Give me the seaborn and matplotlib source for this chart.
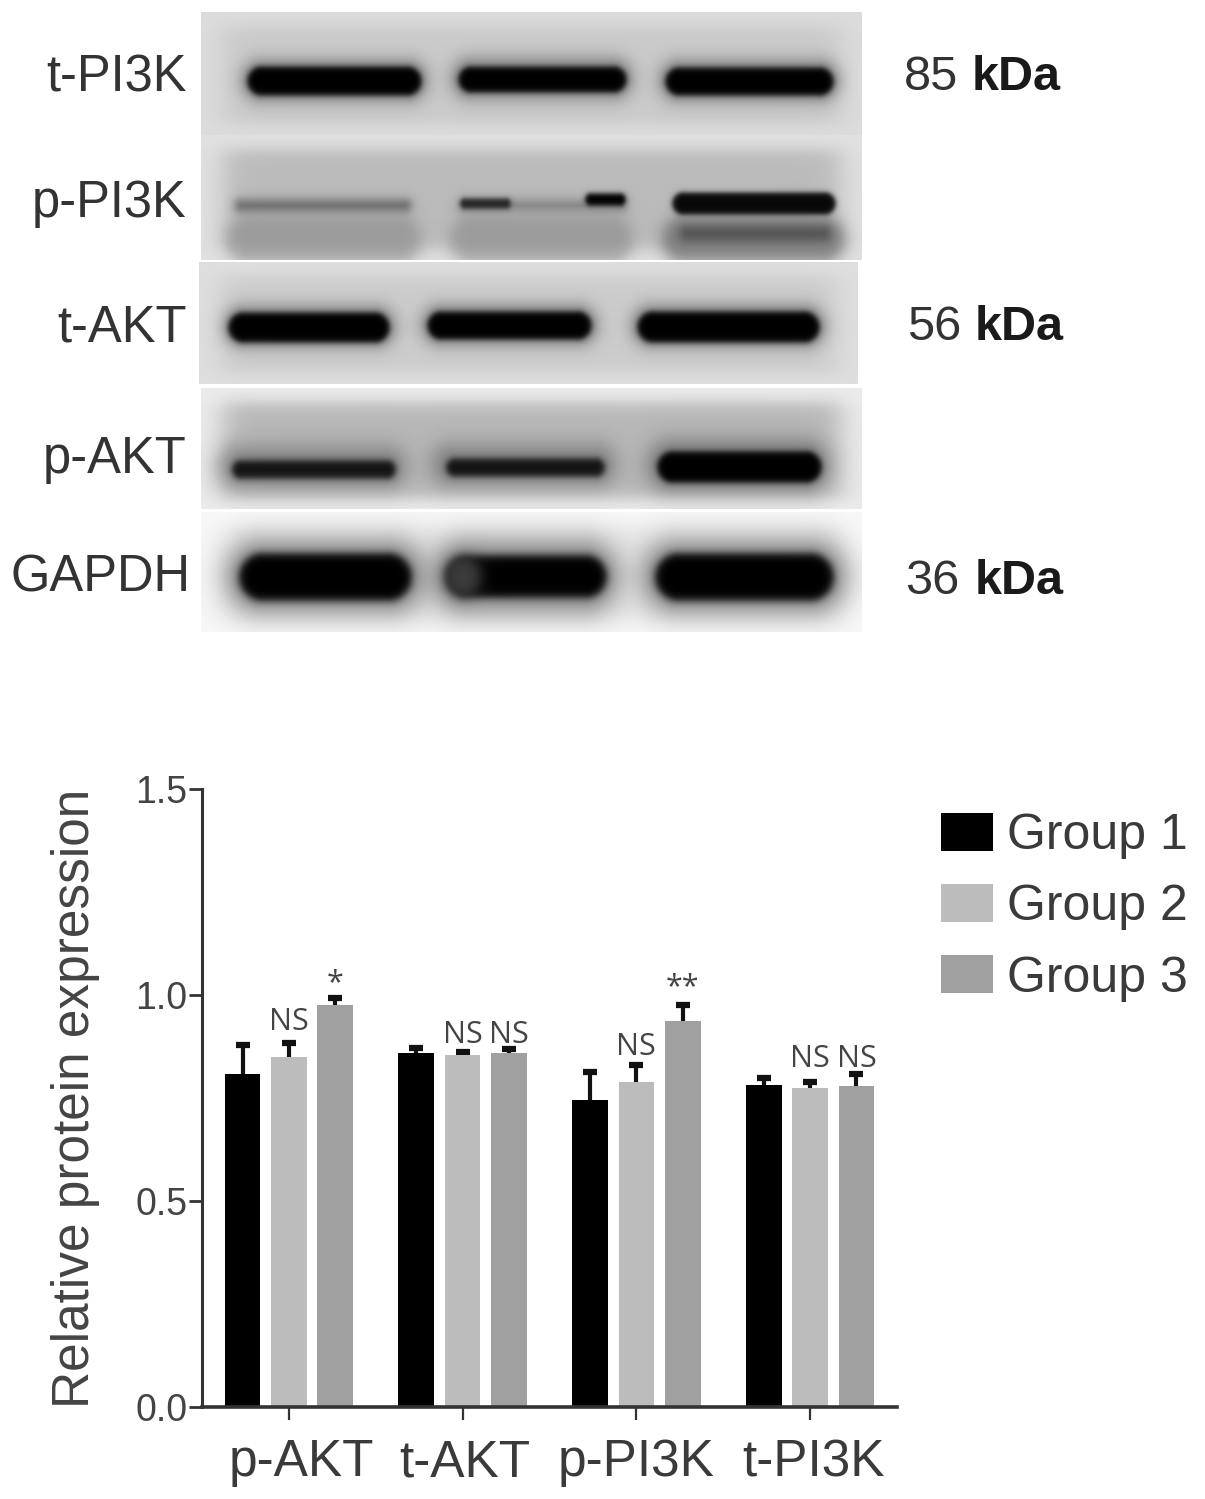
import numpy as np
import pandas as pd
import matplotlib
matplotlib.use("Agg")
import matplotlib.pyplot as plt
from matplotlib.transforms import ScaledTranslation
import seaborn as sns

categories = ["p-AKT", "t-AKT", "p-PI3K", "t-PI3K"]
groups = ["Group 1", "Group 2", "Group 3"]
group1 = [0.808, 0.859, 0.745, 0.782]
group2 = [0.850, 0.854, 0.789, 0.774]
group3 = [0.976, 0.859, 0.937, 0.779]
err1 = [0.071, 0.012, 0.068, 0.017]
err2 = [0.033, 0.008, 0.041, 0.015]
err3 = [0.017, 0.010, 0.039, 0.029]
colors = ["#000000", "#bcbcbc", "#a0a0a0"]

# significance marks: label, category index, group index, baseline value
sig_labels = ["NS", "*", "NS", "NS", "NS", "**", "NS", "NS"]
sig_cat = [0, 0, 1, 1, 2, 2, 3, 3]
sig_grp = [1, 2, 1, 2, 1, 2, 1, 2]
sig_base = [0.915, 1.010, 0.883, 0.883, 0.854, 1.000, 0.825, 0.825]

blot_labels = ["t-PI3K", "p-PI3K", "t-AKT", "p-AKT", "GAPDH"]
size_numbers = ["85", "56", "36"]

W, H = 1205, 1499
BASE = ["Liberation Sans", "DejaVu Sans"]
sns.set_theme(style="white")
plt.rcParams["font.family"] = BASE
INK = "#333333"

fig = plt.figure(figsize=(W / 100, H / 100), dpi=100, facecolor="white")


def S(v, a, b, s):
    return 0.5 * (np.tanh((v - a) / s) - np.tanh((v - b) / s))


def rounded(xx, yy, x0, x1, y0, y1, s):
    cx, cy = (x0 + x1) / 2, (y0 + y1) / 2
    hw, hh = (x1 - x0) / 2, (y1 - y0) / 2
    r = min(hh, hw)
    dx = np.maximum(np.abs(xx - cx) - (hw - r), 0)
    dy = np.maximum(np.abs(yy - cy) - (hh - r), 0)
    d = np.hypot(dx, dy) - r
    return 0.5 * (1 - np.tanh(d / s))


# ---- blot image ----
# panel: top, bottom, left, right, background, edge grey
panels = [
    (12, 135, 201, 862, 0.79, 0.86),
    (135, 260, 201, 862, 0.73, 0.88),
    (262, 384, 199, 858, 0.80, 0.87),
    (388, 509, 201, 862, 0.72, 0.92),
    (512, 632, 201, 862, 0.92, 0.97),
]
# band layers: panel, x0, x1, y0, y1, softness, ink grey, strength
bands = [
    # t-PI3K
    (0, 240, 428, 58, 102, 9, 0.4, 0.6), (0, 450, 633, 56, 100, 9, 0.4, 0.6), (0, 658, 840, 58, 102, 9, 0.4, 0.6),
    (0, 247, 421, 66, 95, 3.5, 0.0, 1), (0, 458, 626, 66, 92, 3.5, 0.0, 1), (0, 665, 833, 67, 95, 3.5, 0.0, 1),
    # p-PI3K
    (1, 226, 420, 216, 262, 9, 0.55, 0.7), (1, 450, 632, 216, 262, 9, 0.55, 0.7), (1, 662, 844, 216, 262, 9, 0.38, 0.7),
    (1, 235, 410, 199, 211, 6, 0.32, 0.75), (1, 460, 625, 200, 210, 7, 0.35, 0.6),
    (1, 460, 510, 198, 208, 3, 0.1, 0.9), (1, 585, 625, 193, 205, 3, 0.0, 1),
    (1, 672, 835, 192, 214, 3, 0.03, 1), (1, 680, 830, 226, 240, 6, 0.22, 0.6),
    # t-AKT
    (2, 222, 396, 304, 348, 9, 0.4, 0.6), (2, 420, 598, 303, 346, 9, 0.4, 0.6), (2, 630, 826, 303, 348, 9, 0.4, 0.6),
    (2, 228, 389, 312, 342, 3.5, 0.0, 1), (2, 427, 591, 311, 339, 3.5, 0.0, 1), (2, 637, 819, 311, 342, 3.5, 0.0, 1),
    # p-AKT
    (3, 218, 404, 446, 486, 13, 0.3, 0.5), (3, 432, 614, 444, 484, 13, 0.3, 0.5), (3, 648, 828, 440, 490, 13, 0.3, 0.6),
    (3, 232, 395, 460, 478, 4, 0.05, 0.95), (3, 446, 604, 458, 476, 4, 0.05, 0.95), (3, 657, 821, 451, 482, 3.5, 0.0, 1),
    # GAPDH
    (4, 226, 424, 540, 612, 17, 0.35, 0.7), (4, 432, 618, 540, 612, 17, 0.35, 0.7), (4, 642, 846, 540, 612, 17, 0.35, 0.7),
    (4, 239, 411, 553, 600, 5, 0.0, 1), (4, 445, 606, 555, 597, 5, 0.0, 1), (4, 655, 833, 553, 600, 5, 0.0, 1),
    (4, 445, 480, 557, 595, 8, 0.28, 0.85),
]
yy, xx = np.mgrid[0:H, 0:W]
canvas = np.ones((H, W), dtype=float)
for i, (t, b, l, r, bg, edge) in enumerate(panels):
    win = S(xx, l + 22, r - 22, 16) * S(yy, t + 14, b - 12, 9)
    layer = edge + (bg - edge) * win
    for (p, x0, x1, y0, y1, s, ink, strength) in bands:
        if p == i:
            a = strength * rounded(xx, yy, x0, x1, y0, y1, s)
            layer = layer * (1 - a) + ink * a
    mask = (xx >= l) & (xx < r) & (yy >= t) & (yy < b)
    canvas[mask] = layer[mask]
ax_img = fig.add_axes([0, 0, 1, 1], zorder=0)
ax_img.imshow(canvas, cmap="gray", vmin=0, vmax=1, extent=(0, W, H, 0), aspect="auto", interpolation="bilinear")
ax_img.set_axis_off()


def fig_text(x, y, s, **kw):
    fig.text(x / W, 1 - y / H, s, **kw)


label_y = [78, 203, 328, 460, 578]
label_r = [187, 187, 187, 187, 191]
for name, y, r in zip(blot_labels, label_y, label_r):
    fig_text(r, y, name, fontsize=36.5, color=INK, ha="right", va="center")
for num, x, kx, y in zip(size_numbers, [904, 907, 905], [972, 975, 975], [78, 328, 582]):
    fig_text(x, y, num, fontsize=35, color=INK, ha="left", va="center")
    fig_text(kx, y, "kDa", fontsize=35, color="#1a1a1a", fontweight="bold", ha="left", va="center")

# ---- bar chart ----
ax = fig.add_axes([202 / W, 1 - 1407 / H, (897 - 202) / W, (1407 - 789) / H], zorder=1)
df = pd.DataFrame({
    "category": np.repeat(categories, 3),
    "group": groups * 4,
    "value": [v for t in zip(group1, group2, group3) for v in t],
})
sns.barplot(data=df, x="category", y="value", hue="group", order=categories, hue_order=groups,
            palette=colors, width=0.8, gap=0.23, errorbar=None, saturation=1, linewidth=0, ax=ax, zorder=1.5)

centers = {}
for g, (container, errs) in enumerate(zip(ax.containers, [err1, err2, err3])):
    for c, (bar, e) in enumerate(zip(container, errs)):
        cx = bar.get_x() + bar.get_width() / 2
        centers[(c, g)] = cx
        _, caps, _ = ax.errorbar(cx, bar.get_height(), yerr=[[0], [e]], color="#111111", elinewidth=3,
                                 capsize=5, capthick=4.5, zorder=1)
        caps[0].set_visible(False)

for lab, c, g, base in zip(sig_labels, sig_cat, sig_grp, sig_base):
    ax.text(centers[(c, g)], base, lab, family=["Open Sans", "DejaVu Sans"], fontsize=22, color="#444444",
            ha="center", va="baseline", zorder=4)

ax.set_xlim(-0.5, 3.5)
ax.set_ylim(0, 1.5)
ax.set_yticks([0, 0.5, 1.0, 1.5])
ax.set_yticklabels(["0.0", "0.5", "1.0", "1.5"], fontsize=27, color="#444444")
ax.set_xlabel("")
ax.set_ylabel("Relative protein expression", fontsize=37, color="#444444", labelpad=0)
ax.yaxis.set_label_coords((100 - 202) / (897 - 202), 0.5)
ax.tick_params(axis="y", left=True, length=9.5, width=2, color=INK, pad=1)
ax.tick_params(axis="x", bottom=True, length=9.5, width=1.6, color=INK, labelsize=37, labelcolor="#3a3a3a", pad=13)
for lab, dx in zip(ax.get_xticklabels(), [12, 2, 0, 3]):
    lab.set_transform(lab.get_transform() + ScaledTranslation(dx / 100, 0, fig.dpi_scale_trans))
sns.despine(ax=ax)
ax.spines["left"].set_linewidth(2.2)
ax.spines["left"].set_color(INK)
ax.spines["bottom"].set_linewidth(2.6)
ax.spines["bottom"].set_color(INK)
ax.patch.set_alpha(0)

leg = ax.legend(loc="upper left", bbox_to_anchor=(941 / W, 1 - 813 / H), bbox_transform=fig.transFigure,
                frameon=False, fontsize=36, handlelength=1.04, handleheight=0.78, handletextpad=0.28,
                labelspacing=0.5, borderpad=0, borderaxespad=0, labelcolor="#3a3a3a")
for h in leg.get_patches():
    h.set_edgecolor("none")

fig.savefig("out.png", dpi=100, facecolor="white")
